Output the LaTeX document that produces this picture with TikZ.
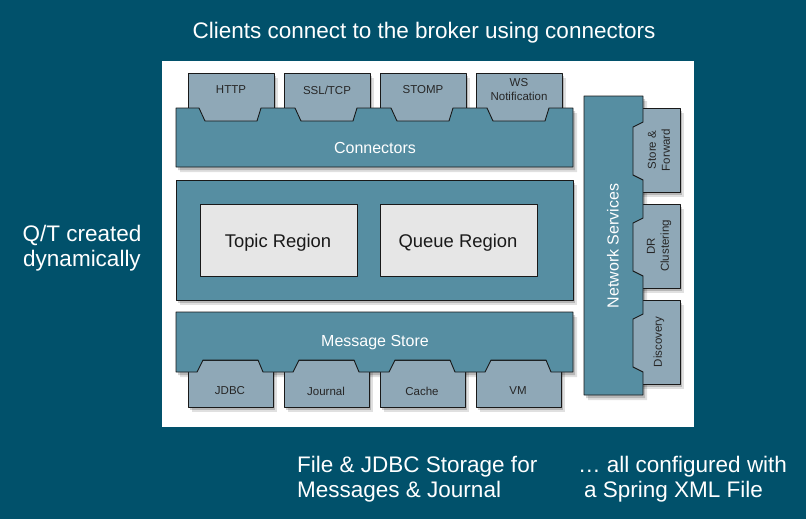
\documentclass[tikz,border=0pt]{standalone}
\usepackage{fontspec}
\setmainfont{Liberation Sans}
\definecolor{bgc}{RGB}{1,81,107}
\definecolor{barc}{RGB}{86,142,162}
\definecolor{tabc}{RGB}{143,168,183}
\definecolor{regc}{RGB}{230,230,230}
\definecolor{edgec}{RGB}{25,25,25}
\newcommand\ConnBarPath{(176,108) \foreach \x in {188,284,380,476}{ -- (\x+11,108) -- (\x+17,121) -- (\x+69,121) -- (\x+73,108)} -- (573,108) -- (573,167) -- (176,167) -- cycle}
\newcommand\MsgBarPath{(176,312) -- (573,312) -- (573,372) \foreach \x in {476,380,284,188}{ -- (\x+75,372) -- (\x+70,360) -- (\x+15,360) -- (\x+9,372)} -- (176,372) -- cycle}
\newcommand\NetBarPath{(584,96) -- (643,96) \foreach \y in {108,204,300}{ -- (643,\y+14) -- (633,\y+19) -- (633,\y+67) -- (643,\y+72)} -- (643,395) -- (584,395) -- cycle}
\begin{document}
\begin{tikzpicture}[x=1pt,y=-1pt,line join=round,
  bar/.style={fill=barc,draw=edgec,line width=0.9pt},
  tabbox/.style={fill=tabc,draw=edgec,line width=0.9pt},
  region/.style={fill=regc,draw=edgec,line width=0.9pt},
  shadA/.style={fill=black,opacity=0.12},
  shadB/.style={fill=black,opacity=0.18},
  wtxt/.style={text=white,font=\fontsize{22.5}{24.5}\selectfont,inner sep=0pt},
  tabtxt/.style={text=black!85,font=\fontsize{11.5}{14}\selectfont,align=center,inner sep=0pt},
  bartxt/.style={text=white,font=\fontsize{16}{18}\selectfont,inner sep=0pt},
  regtxt/.style={text=black!90,font=\fontsize{18.4}{21}\selectfont,inner sep=0pt}]
\useasboundingbox (0,0) rectangle (806,519);
\fill[bgc] (0,0) rectangle (806,519);
\fill[white] (162,61) rectangle (694,427);
% shadows
\foreach \sx/\sy/\st in {4/5/shadA,2/3/shadB}{
  \begin{scope}[xshift=\sx pt,yshift=-\sy pt]
    \fill[\st] \ConnBarPath;
    \fill[\st] \MsgBarPath;
    \fill[\st] \NetBarPath;
    \fill[\st] (176,180) rectangle (573,300);
    \foreach \x in {188,284,380,476}{
      \fill[\st] (\x,73) rectangle (\x+86,121);
      \fill[\st] (\x,360) rectangle (\x+85,407);}
    \foreach \y in {108,204,300}{
      \fill[\st] (630,\y) rectangle (680,\y+84);}
  \end{scope}}
% connectors
\foreach \x in {188,284,380,476}{ \draw[tabbox] (\x,73) rectangle (\x+86,121); }
\draw[bar] \ConnBarPath;
% message store
\foreach \x in {188,284,380,476}{ \draw[tabbox] (\x,360) rectangle (\x+85,407); }
\draw[bar] \MsgBarPath;
% network services
\foreach \y in {108,204,300}{ \draw[tabbox] (625,\y) rectangle (680,\y+84); }
\draw[bar] \NetBarPath;
% middle
\draw[bar] (176,180) rectangle (573,300);
\draw[region] (200,204) rectangle (357,276);
\draw[region] (380,204) rectangle (537,276);
% texts
\node[wtxt] (title) at (424,33) {Clients connect to the broker using connectors};
\node[wtxt,align=center] (qt) at (82,248) {Q/T created\\dynamically};
\node[wtxt,align=left,anchor=west] (store) at (297,479) {File \& JDBC Storage for\\Messages \& Journal};
\node[wtxt,align=left,anchor=west] (spring) at (578,479) {\dots\ all configured with\\\hspace{6pt}a Spring XML File};
\node[tabtxt] (http) at (231,90) {HTTP};
\node[tabtxt] (ssl) at (327,90) {SSL/TCP};
\node[tabtxt] (stomp) at (423,90) {STOMP};
\node[tabtxt] (ws) at (519,90) {WS\\Notification};
\node[bartxt] (conn) at (375,148) {Connectors};
\node[bartxt] (msg) at (375,343) {Message Store};
\node[regtxt] (topic) at (278,243) {Topic Region};
\node[regtxt] (queue) at (458,243) {Queue Region};
\node[tabtxt] (jdbc) at (230,391) {JDBC};
\node[tabtxt] (journal) at (326,391) {Journal};
\node[tabtxt] (cache) at (422,391) {Cache};
\node[tabtxt] (vm) at (518,391) {VM};
\node[bartxt,rotate=90] (net) at (613,246) {Network Services};
\node[tabtxt,rotate=90] (sf) at (659,150) {Store \&\\Forward};
\node[tabtxt,rotate=90] (dr) at (659,246) {DR\\Clustering};
\node[tabtxt,rotate=90] (disc) at (659,342) {Discovery};
\end{tikzpicture}
\end{document}
